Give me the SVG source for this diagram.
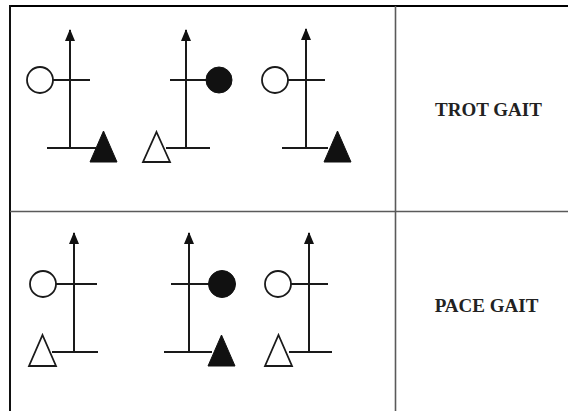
<svg xmlns="http://www.w3.org/2000/svg" width="568" height="411" viewBox="0 0 568 411">
<defs>
<style>
.ln{stroke:#1a1a1a;stroke-width:2;fill:none}
.grid{stroke:#5a5a5a;stroke-width:1.6;fill:none}
.open{fill:#fff;stroke:#1a1a1a;stroke-width:1.8}
.fill{fill:#111;stroke:#111;stroke-width:1}
.lbl{font-family:"Liberation Serif","Times New Roman",serif;font-weight:bold;font-size:19px;fill:#222;text-anchor:middle}
</style>
<marker id="arr" viewBox="0 0 12 10" refX="11" refY="5" markerWidth="12" markerHeight="10" markerUnits="userSpaceOnUse" orient="auto">
<path d="M0,0 L12,5 L0,10 Z" fill="#111"/>
</marker>
</defs>
<rect width="568" height="411" fill="#fff"/>
<g id="table">
<line x1="9" y1="6" x2="568" y2="6" stroke="#000" stroke-width="2.2"/>
<line x1="10" y1="5" x2="10" y2="411" stroke="#111" stroke-width="2"/>
<line class="grid" x1="10" y1="211.5" x2="568" y2="211.5"/>
<line class="grid" x1="395.5" y1="6" x2="395.5" y2="411"/>
</g>
<g id="connectors">
<line class="ln" x1="70" y1="148" x2="70" y2="30" marker-end="url(#arr)"/>
<line class="ln" x1="53" y1="80" x2="90" y2="80"/>
<line class="ln" x1="47" y1="148" x2="96" y2="148"/>
<line class="ln" x1="186" y1="148" x2="186" y2="30" marker-end="url(#arr)"/>
<line class="ln" x1="170" y1="80" x2="206" y2="80"/>
<line class="ln" x1="166" y1="148" x2="210" y2="148"/>
<line class="ln" x1="306" y1="148" x2="306" y2="29" marker-end="url(#arr)"/>
<line class="ln" x1="288" y1="80" x2="325" y2="80"/>
<line class="ln" x1="282" y1="148" x2="328" y2="148"/>
<line class="ln" x1="74" y1="352" x2="74" y2="233" marker-end="url(#arr)"/>
<line class="ln" x1="56" y1="284" x2="97" y2="284"/>
<line class="ln" x1="52" y1="352" x2="98" y2="352"/>
<line class="ln" x1="189" y1="352" x2="189" y2="233" marker-end="url(#arr)"/>
<line class="ln" x1="171" y1="284" x2="209" y2="284"/>
<line class="ln" x1="164" y1="352" x2="212" y2="352"/>
<line class="ln" x1="309" y1="352" x2="309" y2="233" marker-end="url(#arr)"/>
<line class="ln" x1="291" y1="284" x2="328" y2="284"/>
<line class="ln" x1="289" y1="352" x2="332" y2="352"/>
</g>
<g id="trot-1">
<circle class="open" cx="40" cy="80" r="13"/>
<polygon class="fill" points="103.5,131 117,162 90,162"/>
</g>
<g id="trot-2">
<circle class="fill" cx="219" cy="80" r="13"/>
<polygon class="open" points="156.5,132 170,162 143,162"/>
</g>
<g id="trot-3">
<circle class="open" cx="275" cy="80" r="13"/>
<polygon class="fill" points="337.5,131 351,162 324,162"/>
</g>
<g id="pace-1">
<circle class="open" cx="43" cy="284" r="13"/>
<polygon class="open" points="42.5,335 56,366 29,366"/>
</g>
<g id="pace-2">
<circle class="fill" cx="222" cy="284" r="13.5"/>
<polygon class="fill" points="221.5,335 235,366 208,366"/>
</g>
<g id="pace-3">
<circle class="open" cx="278" cy="284" r="13"/>
<polygon class="open" points="278.5,335 292,366 265,366"/>
</g>
<g id="labels">
<text class="lbl" x="488.5" y="116">TROT GAIT</text>
<text class="lbl" x="486.5" y="312">PACE GAIT</text>
</g>
</svg>
